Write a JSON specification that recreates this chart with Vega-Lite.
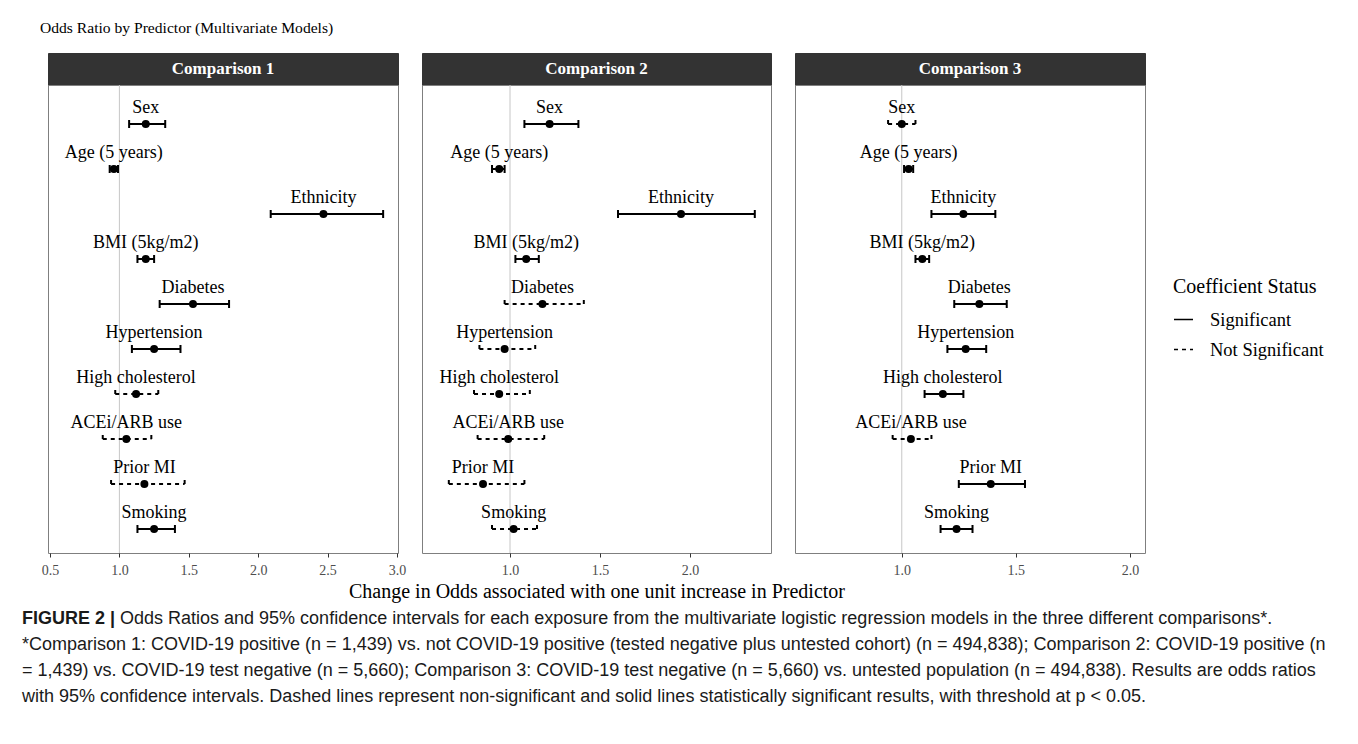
{
  "$schema": "https://vega.github.io/schema/vega-lite/v6.json",
  "background": "white",
  "padding": {"left": 22, "top": 20, "right": 5, "bottom": 5},
  "title": {"text": "Odds Ratio by Predictor (Multivariate Models)", "anchor": "start", "frame": "group", "dx": -8, "offset": 16, "fontSize": 15.6, "fontWeight": "normal", "font": "Liberation Serif", "color": "black"},
  "datasets": {
    "or": [
      {"comparison": "Comparison 1", "predictor": "Sex", "or": 1.19, "lo": 1.07, "hi": 1.33, "status": "Significant"},
      {"comparison": "Comparison 1", "predictor": "Age (5 years)", "or": 0.96, "lo": 0.93, "hi": 0.99, "status": "Significant"},
      {"comparison": "Comparison 1", "predictor": "Ethnicity", "or": 2.47, "lo": 2.09, "hi": 2.90, "status": "Significant"},
      {"comparison": "Comparison 1", "predictor": "BMI (5kg/m2)", "or": 1.19, "lo": 1.13, "hi": 1.25, "status": "Significant"},
      {"comparison": "Comparison 1", "predictor": "Diabetes", "or": 1.53, "lo": 1.29, "hi": 1.79, "status": "Significant"},
      {"comparison": "Comparison 1", "predictor": "Hypertension", "or": 1.25, "lo": 1.09, "hi": 1.44, "status": "Significant"},
      {"comparison": "Comparison 1", "predictor": "High cholesterol", "or": 1.12, "lo": 0.97, "hi": 1.28, "status": "Not Significant"},
      {"comparison": "Comparison 1", "predictor": "ACEi/ARB use", "or": 1.05, "lo": 0.88, "hi": 1.23, "status": "Not Significant"},
      {"comparison": "Comparison 1", "predictor": "Prior MI", "or": 1.18, "lo": 0.94, "hi": 1.47, "status": "Not Significant"},
      {"comparison": "Comparison 1", "predictor": "Smoking", "or": 1.25, "lo": 1.13, "hi": 1.40, "status": "Significant"},
      {"comparison": "Comparison 2", "predictor": "Sex", "or": 1.22, "lo": 1.08, "hi": 1.38, "status": "Significant"},
      {"comparison": "Comparison 2", "predictor": "Age (5 years)", "or": 0.94, "lo": 0.90, "hi": 0.97, "status": "Significant"},
      {"comparison": "Comparison 2", "predictor": "Ethnicity", "or": 1.95, "lo": 1.60, "hi": 2.36, "status": "Significant"},
      {"comparison": "Comparison 2", "predictor": "BMI (5kg/m2)", "or": 1.09, "lo": 1.03, "hi": 1.16, "status": "Significant"},
      {"comparison": "Comparison 2", "predictor": "Diabetes", "or": 1.18, "lo": 0.97, "hi": 1.41, "status": "Not Significant"},
      {"comparison": "Comparison 2", "predictor": "Hypertension", "or": 0.97, "lo": 0.83, "hi": 1.14, "status": "Not Significant"},
      {"comparison": "Comparison 2", "predictor": "High cholesterol", "or": 0.94, "lo": 0.80, "hi": 1.11, "status": "Not Significant"},
      {"comparison": "Comparison 2", "predictor": "ACEi/ARB use", "or": 0.99, "lo": 0.82, "hi": 1.19, "status": "Not Significant"},
      {"comparison": "Comparison 2", "predictor": "Prior MI", "or": 0.85, "lo": 0.66, "hi": 1.08, "status": "Not Significant"},
      {"comparison": "Comparison 2", "predictor": "Smoking", "or": 1.02, "lo": 0.90, "hi": 1.15, "status": "Not Significant"},
      {"comparison": "Comparison 3", "predictor": "Sex", "or": 1.00, "lo": 0.94, "hi": 1.06, "status": "Not Significant"},
      {"comparison": "Comparison 3", "predictor": "Age (5 years)", "or": 1.03, "lo": 1.01, "hi": 1.05, "status": "Significant"},
      {"comparison": "Comparison 3", "predictor": "Ethnicity", "or": 1.27, "lo": 1.13, "hi": 1.41, "status": "Significant"},
      {"comparison": "Comparison 3", "predictor": "BMI (5kg/m2)", "or": 1.09, "lo": 1.06, "hi": 1.12, "status": "Significant"},
      {"comparison": "Comparison 3", "predictor": "Diabetes", "or": 1.34, "lo": 1.23, "hi": 1.46, "status": "Significant"},
      {"comparison": "Comparison 3", "predictor": "Hypertension", "or": 1.28, "lo": 1.20, "hi": 1.37, "status": "Significant"},
      {"comparison": "Comparison 3", "predictor": "High cholesterol", "or": 1.18, "lo": 1.10, "hi": 1.27, "status": "Significant"},
      {"comparison": "Comparison 3", "predictor": "ACEi/ARB use", "or": 1.04, "lo": 0.96, "hi": 1.13, "status": "Not Significant"},
      {"comparison": "Comparison 3", "predictor": "Prior MI", "or": 1.39, "lo": 1.25, "hi": 1.54, "status": "Significant"},
      {"comparison": "Comparison 3", "predictor": "Smoking", "or": 1.24, "lo": 1.17, "hi": 1.31, "status": "Significant"}
    ]
  },
  "vconcat": [
    {
      "columns": 3,
      "spacing": {"row": 0, "column": 24},
      "bounds": "flush",
      "concat": [
        {"width": 350, "height": 32, "view": {"fill": "#333333", "stroke": "#333333"}, "data": {"values": [{"comparison": "Comparison 1"}]}, "mark": {"type": "text", "color": "white", "fontSize": 17, "fontWeight": "bold"}, "encoding": {"text": {"field": "comparison"}}},
        {"width": 349, "height": 32, "view": {"fill": "#333333", "stroke": "#333333"}, "data": {"values": [{"comparison": "Comparison 2"}]}, "mark": {"type": "text", "color": "white", "fontSize": 17, "fontWeight": "bold"}, "encoding": {"text": {"field": "comparison"}}},
        {"width": 350, "height": 32, "view": {"fill": "#333333", "stroke": "#333333"}, "data": {"values": [{"comparison": "Comparison 3"}]}, "mark": {"type": "text", "color": "white", "fontSize": 17, "fontWeight": "bold"}, "encoding": {"text": {"field": "comparison"}}},
        {
          "width": 350, "height": 468,
          "data": {"name": "or"},
          "transform": [{"filter": "datum.comparison === 'Comparison 1'"}],
          "layer": [
            {"data": {"values": [{"ref": 1}]}, "mark": {"type": "rule", "color": "#c6c6c6", "strokeWidth": 1}, "encoding": {"x": {"field": "ref", "type": "quantitative", "scale": {"domain": [0.4856, 3.007], "nice": false, "zero": false}, "axis": {"values": [0.5, 1, 1.5, 2, 2.5, 3], "format": ".1f", "title": null}}}},
            {"mark": {"type": "rule", "color": "black", "strokeWidth": 2, "yOffset": 7.5}, "encoding": {
              "x": {"field": "lo", "type": "quantitative", "scale": {"domain": [0.4856, 3.007], "nice": false, "zero": false}, "axis": {"values": [0.5, 1, 1.5, 2, 2.5, 3], "format": ".1f", "title": null}}, "x2": {"field": "hi"},
              "y": {"field": "predictor", "type": "nominal", "sort": ["Sex", "Age (5 years)", "Ethnicity", "BMI (5kg/m2)", "Diabetes", "Hypertension", "High cholesterol", "ACEi/ARB use", "Prior MI", "Smoking"], "scale": {"type": "point", "padding": 0.7}, "axis": null},
              "strokeDash": {"field": "status", "type": "nominal", "scale": {"domain": ["Significant", "Not Significant"], "range": [[1, 0], [4, 4]]}, "legend": {"title": "Coefficient Status", "orient": "none", "legendX": 1125, "legendY": 224, "symbolType": "stroke"}}}},
            {"mark": {"type": "point", "shape": "M0,-1L0,1", "filled": false, "color": "black", "opacity": 1, "strokeWidth": 2, "size": 64, "yOffset": 7.5}, "encoding": {
              "x": {"field": "lo", "type": "quantitative", "scale": {"domain": [0.4856, 3.007], "nice": false, "zero": false}, "axis": {"values": [0.5, 1, 1.5, 2, 2.5, 3], "format": ".1f", "title": null}},
              "y": {"field": "predictor", "type": "nominal", "sort": ["Sex", "Age (5 years)", "Ethnicity", "BMI (5kg/m2)", "Diabetes", "Hypertension", "High cholesterol", "ACEi/ARB use", "Prior MI", "Smoking"], "scale": {"type": "point", "padding": 0.7}, "axis": null},
              "strokeDash": {"field": "status", "type": "nominal", "legend": null}}},
            {"mark": {"type": "point", "shape": "M0,-1L0,1", "filled": false, "color": "black", "opacity": 1, "strokeWidth": 2, "size": 64, "yOffset": 7.5}, "encoding": {
              "x": {"field": "hi", "type": "quantitative", "scale": {"domain": [0.4856, 3.007], "nice": false, "zero": false}, "axis": {"values": [0.5, 1, 1.5, 2, 2.5, 3], "format": ".1f", "title": null}},
              "y": {"field": "predictor", "type": "nominal", "sort": ["Sex", "Age (5 years)", "Ethnicity", "BMI (5kg/m2)", "Diabetes", "Hypertension", "High cholesterol", "ACEi/ARB use", "Prior MI", "Smoking"], "scale": {"type": "point", "padding": 0.7}, "axis": null},
              "strokeDash": {"field": "status", "type": "nominal", "legend": null}}},
            {"mark": {"type": "circle", "color": "black", "opacity": 1, "size": 64, "yOffset": 7.5}, "encoding": {
              "x": {"field": "or", "type": "quantitative", "scale": {"domain": [0.4856, 3.007], "nice": false, "zero": false}, "axis": {"values": [0.5, 1, 1.5, 2, 2.5, 3], "format": ".1f", "title": null}},
              "y": {"field": "predictor", "type": "nominal", "sort": ["Sex", "Age (5 years)", "Ethnicity", "BMI (5kg/m2)", "Diabetes", "Hypertension", "High cholesterol", "ACEi/ARB use", "Prior MI", "Smoking"], "scale": {"type": "point", "padding": 0.7}, "axis": null}}},
            {"mark": {"type": "text", "color": "black", "fontSize": 18, "baseline": "alphabetic", "dy": -11, "yOffset": 7.5}, "encoding": {
              "x": {"field": "or", "type": "quantitative", "scale": {"domain": [0.4856, 3.007], "nice": false, "zero": false}, "axis": {"values": [0.5, 1, 1.5, 2, 2.5, 3], "format": ".1f", "title": null}},
              "y": {"field": "predictor", "type": "nominal", "sort": ["Sex", "Age (5 years)", "Ethnicity", "BMI (5kg/m2)", "Diabetes", "Hypertension", "High cholesterol", "ACEi/ARB use", "Prior MI", "Smoking"], "scale": {"type": "point", "padding": 0.7}, "axis": null},
              "text": {"field": "predictor"}}}
          ]
        },
        {
          "width": 349, "height": 468,
          "data": {"name": "or"},
          "transform": [{"filter": "datum.comparison === 'Comparison 2'"}],
          "layer": [
            {"data": {"values": [{"ref": 1}]}, "mark": {"type": "rule", "color": "#c6c6c6", "strokeWidth": 1}, "encoding": {"x": {"field": "ref", "type": "quantitative", "scale": {"domain": [0.511, 2.45], "nice": false, "zero": false}, "axis": {"values": [1, 1.5, 2], "format": ".1f", "title": "Change in Odds associated with one unit increase in Predictor"}}}},
            {"mark": {"type": "rule", "color": "black", "strokeWidth": 2, "yOffset": 7.5}, "encoding": {
              "x": {"field": "lo", "type": "quantitative", "scale": {"domain": [0.511, 2.45], "nice": false, "zero": false}, "axis": {"values": [1, 1.5, 2], "format": ".1f", "title": "Change in Odds associated with one unit increase in Predictor"}}, "x2": {"field": "hi"},
              "y": {"field": "predictor", "type": "nominal", "sort": ["Sex", "Age (5 years)", "Ethnicity", "BMI (5kg/m2)", "Diabetes", "Hypertension", "High cholesterol", "ACEi/ARB use", "Prior MI", "Smoking"], "scale": {"type": "point", "padding": 0.7}, "axis": null},
              "strokeDash": {"field": "status", "type": "nominal", "scale": {"domain": ["Significant", "Not Significant"], "range": [[1, 0], [4, 4]]}, "legend": {"title": "Coefficient Status", "orient": "none", "legendX": 1125, "legendY": 224, "symbolType": "stroke"}}}},
            {"mark": {"type": "point", "shape": "M0,-1L0,1", "filled": false, "color": "black", "opacity": 1, "strokeWidth": 2, "size": 64, "yOffset": 7.5}, "encoding": {
              "x": {"field": "lo", "type": "quantitative", "scale": {"domain": [0.511, 2.45], "nice": false, "zero": false}, "axis": {"values": [1, 1.5, 2], "format": ".1f", "title": "Change in Odds associated with one unit increase in Predictor"}},
              "y": {"field": "predictor", "type": "nominal", "sort": ["Sex", "Age (5 years)", "Ethnicity", "BMI (5kg/m2)", "Diabetes", "Hypertension", "High cholesterol", "ACEi/ARB use", "Prior MI", "Smoking"], "scale": {"type": "point", "padding": 0.7}, "axis": null},
              "strokeDash": {"field": "status", "type": "nominal", "legend": null}}},
            {"mark": {"type": "point", "shape": "M0,-1L0,1", "filled": false, "color": "black", "opacity": 1, "strokeWidth": 2, "size": 64, "yOffset": 7.5}, "encoding": {
              "x": {"field": "hi", "type": "quantitative", "scale": {"domain": [0.511, 2.45], "nice": false, "zero": false}, "axis": {"values": [1, 1.5, 2], "format": ".1f", "title": "Change in Odds associated with one unit increase in Predictor"}},
              "y": {"field": "predictor", "type": "nominal", "sort": ["Sex", "Age (5 years)", "Ethnicity", "BMI (5kg/m2)", "Diabetes", "Hypertension", "High cholesterol", "ACEi/ARB use", "Prior MI", "Smoking"], "scale": {"type": "point", "padding": 0.7}, "axis": null},
              "strokeDash": {"field": "status", "type": "nominal", "legend": null}}},
            {"mark": {"type": "circle", "color": "black", "opacity": 1, "size": 64, "yOffset": 7.5}, "encoding": {
              "x": {"field": "or", "type": "quantitative", "scale": {"domain": [0.511, 2.45], "nice": false, "zero": false}, "axis": {"values": [1, 1.5, 2], "format": ".1f", "title": "Change in Odds associated with one unit increase in Predictor"}},
              "y": {"field": "predictor", "type": "nominal", "sort": ["Sex", "Age (5 years)", "Ethnicity", "BMI (5kg/m2)", "Diabetes", "Hypertension", "High cholesterol", "ACEi/ARB use", "Prior MI", "Smoking"], "scale": {"type": "point", "padding": 0.7}, "axis": null}}},
            {"mark": {"type": "text", "color": "black", "fontSize": 18, "baseline": "alphabetic", "dy": -11, "yOffset": 7.5}, "encoding": {
              "x": {"field": "or", "type": "quantitative", "scale": {"domain": [0.511, 2.45], "nice": false, "zero": false}, "axis": {"values": [1, 1.5, 2], "format": ".1f", "title": "Change in Odds associated with one unit increase in Predictor"}},
              "y": {"field": "predictor", "type": "nominal", "sort": ["Sex", "Age (5 years)", "Ethnicity", "BMI (5kg/m2)", "Diabetes", "Hypertension", "High cholesterol", "ACEi/ARB use", "Prior MI", "Smoking"], "scale": {"type": "point", "padding": 0.7}, "axis": null},
              "text": {"field": "predictor"}}}
          ]
        },
        {
          "width": 350, "height": 468,
          "data": {"name": "or"},
          "transform": [{"filter": "datum.comparison === 'Comparison 3'"}],
          "layer": [
            {"data": {"values": [{"ref": 1}]}, "mark": {"type": "rule", "color": "#c6c6c6", "strokeWidth": 1}, "encoding": {"x": {"field": "ref", "type": "quantitative", "scale": {"domain": [0.532, 2.066], "nice": false, "zero": false}, "axis": {"values": [1, 1.5, 2], "format": ".1f", "title": null}}}},
            {"mark": {"type": "rule", "color": "black", "strokeWidth": 2, "yOffset": 7.5}, "encoding": {
              "x": {"field": "lo", "type": "quantitative", "scale": {"domain": [0.532, 2.066], "nice": false, "zero": false}, "axis": {"values": [1, 1.5, 2], "format": ".1f", "title": null}}, "x2": {"field": "hi"},
              "y": {"field": "predictor", "type": "nominal", "sort": ["Sex", "Age (5 years)", "Ethnicity", "BMI (5kg/m2)", "Diabetes", "Hypertension", "High cholesterol", "ACEi/ARB use", "Prior MI", "Smoking"], "scale": {"type": "point", "padding": 0.7}, "axis": null},
              "strokeDash": {"field": "status", "type": "nominal", "scale": {"domain": ["Significant", "Not Significant"], "range": [[1, 0], [4, 4]]}, "legend": {"title": "Coefficient Status", "orient": "none", "legendX": 1125, "legendY": 224, "symbolType": "stroke"}}}},
            {"mark": {"type": "point", "shape": "M0,-1L0,1", "filled": false, "color": "black", "opacity": 1, "strokeWidth": 2, "size": 64, "yOffset": 7.5}, "encoding": {
              "x": {"field": "lo", "type": "quantitative", "scale": {"domain": [0.532, 2.066], "nice": false, "zero": false}, "axis": {"values": [1, 1.5, 2], "format": ".1f", "title": null}},
              "y": {"field": "predictor", "type": "nominal", "sort": ["Sex", "Age (5 years)", "Ethnicity", "BMI (5kg/m2)", "Diabetes", "Hypertension", "High cholesterol", "ACEi/ARB use", "Prior MI", "Smoking"], "scale": {"type": "point", "padding": 0.7}, "axis": null},
              "strokeDash": {"field": "status", "type": "nominal", "legend": null}}},
            {"mark": {"type": "point", "shape": "M0,-1L0,1", "filled": false, "color": "black", "opacity": 1, "strokeWidth": 2, "size": 64, "yOffset": 7.5}, "encoding": {
              "x": {"field": "hi", "type": "quantitative", "scale": {"domain": [0.532, 2.066], "nice": false, "zero": false}, "axis": {"values": [1, 1.5, 2], "format": ".1f", "title": null}},
              "y": {"field": "predictor", "type": "nominal", "sort": ["Sex", "Age (5 years)", "Ethnicity", "BMI (5kg/m2)", "Diabetes", "Hypertension", "High cholesterol", "ACEi/ARB use", "Prior MI", "Smoking"], "scale": {"type": "point", "padding": 0.7}, "axis": null},
              "strokeDash": {"field": "status", "type": "nominal", "legend": null}}},
            {"mark": {"type": "circle", "color": "black", "opacity": 1, "size": 64, "yOffset": 7.5}, "encoding": {
              "x": {"field": "or", "type": "quantitative", "scale": {"domain": [0.532, 2.066], "nice": false, "zero": false}, "axis": {"values": [1, 1.5, 2], "format": ".1f", "title": null}},
              "y": {"field": "predictor", "type": "nominal", "sort": ["Sex", "Age (5 years)", "Ethnicity", "BMI (5kg/m2)", "Diabetes", "Hypertension", "High cholesterol", "ACEi/ARB use", "Prior MI", "Smoking"], "scale": {"type": "point", "padding": 0.7}, "axis": null}}},
            {"mark": {"type": "text", "color": "black", "fontSize": 18, "baseline": "alphabetic", "dy": -11, "yOffset": 7.5}, "encoding": {
              "x": {"field": "or", "type": "quantitative", "scale": {"domain": [0.532, 2.066], "nice": false, "zero": false}, "axis": {"values": [1, 1.5, 2], "format": ".1f", "title": null}},
              "y": {"field": "predictor", "type": "nominal", "sort": ["Sex", "Age (5 years)", "Ethnicity", "BMI (5kg/m2)", "Diabetes", "Hypertension", "High cholesterol", "ACEi/ARB use", "Prior MI", "Smoking"], "scale": {"type": "point", "padding": 0.7}, "axis": null},
              "text": {"field": "predictor"}}}
          ]
        }
      ]
    },
    {
      "width": 1320, "height": 110,
      "view": {"stroke": null},
      "data": {"values": [{
        "head": "FIGURE 2 |",
        "first": "Odds Ratios and 95% confidence intervals for each exposure from the multivariate logistic regression models in the three different comparisons*.",
        "rest": "*Comparison 1: COVID-19 positive (n = 1,439) vs. not COVID-19 positive (tested negative plus untested cohort) (n = 494,838); Comparison 2: COVID-19 positive (n\n= 1,439) vs. COVID-19 test negative (n = 5,660); Comparison 3: COVID-19 test negative (n = 5,660) vs. untested population (n = 494,838). Results are odds ratios\nwith 95% confidence intervals. Dashed lines represent non-significant and solid lines statistically significant results, with threshold at p < 0.05."
      }]},
      "layer": [
        {"mark": {"type": "text", "font": "Liberation Sans", "fontSize": 18, "fontWeight": "bold", "align": "left", "baseline": "top", "dx": -26, "color": "#1a1a1a"}, "encoding": {
          "x": {"datum": 0, "type": "quantitative", "scale": {"domain": [0, 1]}, "axis": null},
          "y": {"datum": 1, "type": "quantitative", "scale": {"domain": [0, 1]}, "axis": null},
          "text": {"field": "head"}}},
        {"mark": {"type": "text", "font": "Liberation Sans", "fontSize": 18, "align": "left", "baseline": "top", "dx": 72, "color": "#1a1a1a"}, "encoding": {
          "x": {"datum": 0, "type": "quantitative", "scale": {"domain": [0, 1]}, "axis": null},
          "y": {"datum": 1, "type": "quantitative", "scale": {"domain": [0, 1]}, "axis": null},
          "text": {"field": "first"}}},
        {"mark": {"type": "text", "font": "Liberation Sans", "fontSize": 18, "align": "left", "baseline": "top", "dx": -26, "dy": 26, "lineBreak": "\n", "lineHeight": 26, "color": "#1a1a1a"}, "encoding": {
          "x": {"datum": 0, "type": "quantitative", "scale": {"domain": [0, 1]}, "axis": null},
          "y": {"datum": 1, "type": "quantitative", "scale": {"domain": [0, 1]}, "axis": null},
          "text": {"field": "rest"}}}
      ]
    }
  ],
  "spacing": 8,
  "config": {
    "font": "Liberation Serif",
    "view": {"stroke": "#7f7f7f", "strokeWidth": 1},
    "axis": {"labelFont": "Liberation Serif", "labelFontSize": 14, "labelColor": "#4d4d4d", "labelFlush": false, "labelOverlap": false, "labelPadding": 6, "tickColor": "#333333", "tickSize": 4, "domain": false, "grid": false, "titleFont": "Liberation Serif", "titleFontSize": 20, "titleFontWeight": "normal", "titleColor": "black", "titlePadding": 4},
    "legend": {"titleFont": "Liberation Serif", "titleFontSize": 20, "titleFontWeight": "normal", "titleColor": "black", "titlePadding": 12, "labelFont": "Liberation Serif", "labelFontSize": 18.5, "labelColor": "black", "labelOffset": 16, "symbolSize": 361, "symbolStrokeWidth": 1.5, "symbolStrokeColor": "black", "rowPadding": 10, "padding": 0}
  }
}
